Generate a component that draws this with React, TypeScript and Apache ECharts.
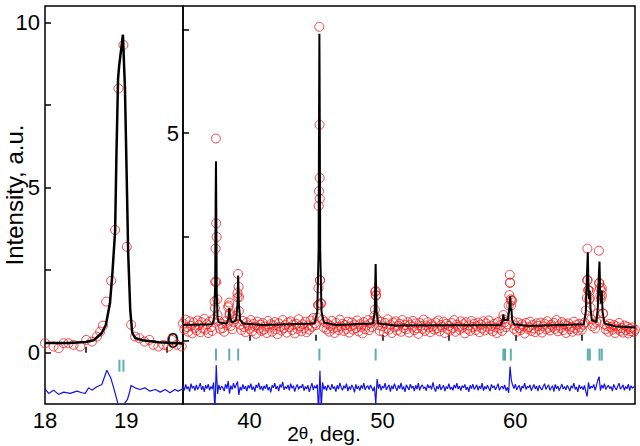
import React, { useEffect, useRef } from "react";
import * as echarts from "echarts";

const FONT = '"Liberation Sans", Arial, sans-serif';

// ---- Left panel (low-angle peak) ----
const leftXTicks = [18.5, 19.5];
const leftXLabels = [18, 19];
const leftYTicks = [0, 2.5, 5, 7.5, 10];
const leftYLabels = [0, 5, 10];

const leftObs: number[][] = [
  [18.0, 0.29], [18.106, 0.19], [18.168, 0.14], [18.229, 0.29], [18.29, 0.29],
  [18.352, 0.24], [18.434, 0.19], [18.508, 0.39], [18.578, 0.34], [18.639, 0.49],
  [18.68, 0.64], [18.713, 0.82], [18.754, 1.55], [18.815, 2.18], [18.864, 3.72],
  [18.905, 8.0], [18.966, 9.32], [19.008, 3.21], [19.061, 0.85], [19.11, 0.49],
  [19.163, 0.44], [19.225, 0.34], [19.286, 0.39], [19.335, 0.24], [19.397, 0.19],
  [19.458, 0.24], [19.52, 0.19], [19.562, 0.39], [19.623, 0.24], [19.684, 0.19],
];

const leftCalc: number[][] = [
  [18.0, 0.3], [18.3, 0.3], [18.5, 0.33], [18.6, 0.38], [18.7, 0.6], [18.75, 0.85],
  [18.8, 1.5], [18.83, 2.4], [18.864, 3.7], [18.88, 6.0], [18.9, 8.3], [18.914, 8.7],
  [18.96, 9.63], [18.985, 8.0], [19.005, 5.5], [19.025, 3.0], [19.05, 1.3],
  [19.075, 0.6], [19.11, 0.45], [19.2, 0.38], [19.4, 0.32], [19.7, 0.28],
];

const leftDiff: number[][] = [
  [18.0, -1.09], [18.045, -1.23], [18.106, -1.13], [18.167, -1.26], [18.229, -1.19],
  [18.311, -1.23], [18.393, -1.16], [18.455, -1.21], [18.496, -1.23], [18.537, -1.06],
  [18.578, -1.13], [18.639, -1.03], [18.70, -0.96], [18.762, -0.53], [18.81, -0.76],
  [18.84, -1.01], [18.885, -1.41], [18.914, -1.72], [18.947, -1.8], [18.987, -1.51],
  [19.016, -1.41], [19.04, -1.21], [19.06, -0.99], [19.11, -1.06], [19.17, -1.11],
  [19.23, -1.06], [19.29, -1.16], [19.36, -1.11], [19.42, -1.19], [19.48, -1.11],
  [19.54, -1.21], [19.60, -1.11], [19.64, -1.16], [19.70, -1.09],
];

const leftMarks = [18.917, 18.966];

// ---- Right panel ----
const rightXTicks = [40, 45, 50, 55, 60, 65];
const rightXLabels = [40, 50, 60];
const rightYTicks = [0, 2.5, 5, 7.5];
const rightYLabels = [0, 5];

const rightObsStart = 35;
const rightObsStep = 0.1;
const rightObs = [
  0.42, 0.28, 0.51, 0.33, 0.22, 0.47, 0.36, 0.18, 0.44, 0.31,
  0.25, 0.49, 0.38, 0.21, 0.45, 0.30, 0.53, 0.27, 0.40, 0.19,
  0.46, 0.33, 0.24, 0.52, 0.79, 1.42, 0.62, 0.48, 0.29, 0.41,
  0.31, 0.22, 0.47, 0.38, 0.81, 0.62, 0.36, 0.28, 0.45, 0.52,
  0.61, 1.05, 0.72, 0.39, 0.26, 0.48, 0.33, 0.21, 0.44, 0.37,
  0.29, 0.50, 0.23, 0.41, 0.34, 0.17, 0.46, 0.30, 0.39, 0.24,
  0.43, 0.27, 0.35, 0.19, 0.48, 0.32, 0.40, 0.22, 0.37, 0.45,
  0.28, 0.16, 0.42, 0.34, 0.25, 0.50, 0.31, 0.38, 0.20, 0.44,
  0.33, 0.47, 0.26, 0.39, 0.18, 0.41, 0.29, 0.52, 0.35, 0.23,
  0.40, 0.30, 0.46, 0.21, 0.37, 0.27, 0.49, 0.34, 0.55, 0.42,
  0.38, 0.56, 0.86, 1.46, 0.90, 0.51, 0.32, 0.45, 0.28, 0.40,
  0.22, 0.36, 0.48, 0.30, 0.19, 0.43, 0.33, 0.26, 0.51, 0.35,
  0.41, 0.24, 0.38, 0.29, 0.46, 0.20, 0.35, 0.44, 0.27, 0.39,
  0.31, 0.49, 0.23, 0.40, 0.34, 0.18, 0.45, 0.28, 0.37, 0.50,
  0.26, 0.42, 0.33, 0.48, 0.60, 1.10, 0.52, 0.38, 0.24, 0.46,
  0.35, 0.21, 0.43, 0.30, 0.52, 0.27, 0.39, 0.19, 0.44, 0.33,
  0.47, 0.25, 0.36, 0.41, 0.22, 0.50, 0.31, 0.38, 0.28, 0.45,
  0.20, 0.39, 0.34, 0.48, 0.26, 0.42, 0.30, 0.17, 0.43, 0.36,
  0.29, 0.51, 0.24, 0.37, 0.45, 0.32, 0.21, 0.40, 0.35, 0.27,
  0.44, 0.30, 0.49, 0.23, 0.38, 0.33, 0.46, 0.19, 0.41, 0.28,
  0.36, 0.25, 0.43, 0.31, 0.50, 0.22, 0.39, 0.34, 0.27, 0.47,
  0.32, 0.40, 0.18, 0.45, 0.29, 0.37, 0.24, 0.48, 0.33, 0.41,
  0.26, 0.35, 0.44, 0.21, 0.39, 0.30, 0.47, 0.25, 0.42, 0.34,
  0.49, 0.28, 0.36, 0.23, 0.41, 0.32, 0.19, 0.45, 0.30, 0.38,
  0.24, 0.52, 0.45, 0.33, 0.40, 0.85, 1.40, 0.97, 0.47, 0.29,
  0.37, 0.22, 0.44, 0.31, 0.26, 0.40, 0.35, 0.18, 0.43, 0.29,
  0.33, 0.46, 0.24, 0.38, 0.30, 0.21, 0.42, 0.36, 0.27, 0.44,
  0.20, 0.35, 0.41, 0.28, 0.47, 0.32, 0.25, 0.39, 0.34, 0.43,
  0.29, 0.50, 0.23, 0.37, 0.31, 0.45, 0.26, 0.40, 0.19, 0.36,
  0.42, 0.28, 0.34, 0.22, 0.46, 0.30, 0.38, 0.25, 0.41, 0.33,
  0.27, 0.39, 0.44, 0.73, 1.46, 1.22, 1.03, 0.52, 0.35, 0.41,
  0.30, 0.45, 0.66, 1.39, 1.09, 1.27, 0.66, 0.40, 0.28, 0.36,
  0.22, 0.41, 0.33, 0.27, 0.38, 0.19, 0.35, 0.29, 0.43, 0.24,
  0.31, 0.20, 0.37, 0.26, 0.34, 0.18, 0.29, 0.23, 0.32, 0.21,
  0.27,
];

const rightObsPeaks: number[][] = [
  [37.38, 0.95], [37.42, 1.42], [37.45, 2.22], [37.47, 4.87], [37.50, 2.83], [37.53, 2.50], [37.58, 1.0],
  [38.44, 0.85], [38.48, 0.92], [38.52, 0.66],
  [39.10, 1.15], [39.14, 1.61], [39.18, 1.30], [39.22, 1.05],
  [45.16, 0.86], [45.19, 1.27], [45.21, 3.25], [45.23, 3.60], [45.25, 7.56], [45.27, 5.20],
  [45.28, 3.92], [45.29, 3.42], [45.31, 1.46], [45.34, 0.90],
  [49.44, 0.75], [49.46, 1.18], [49.50, 1.20], [49.53, 1.09],
  [59.10, 0.62], [59.55, 1.10], [59.58, 1.59], [59.60, 1.40], [59.65, 1.00], [59.68, 0.85], [59.75, 0.97],
  [65.38, 1.03], [65.42, 2.22], [65.44, 1.46], [65.48, 1.22], [65.56, 1.00], [65.60, 1.20], [65.65, 0.80],
  [66.28, 2.17], [66.32, 1.39], [66.36, 1.27], [66.42, 1.00], [66.48, 1.20], [66.52, 1.09], [66.58, 0.66],
];

const rightCalc: number[][] = [
  [35, 0.38], [37.2, 0.40], [37.35, 0.55], [37.42, 1.4], [37.46, 3.6], [37.48, 4.32], [37.5, 3.4],
  [37.54, 1.1], [37.6, 0.55], [37.7, 0.44], [38.3, 0.42], [38.42, 0.55], [38.48, 0.79], [38.54, 0.55],
  [38.7, 0.44], [39.0, 0.5], [39.1, 0.9], [39.15, 1.57], [39.2, 0.9], [39.3, 0.5], [39.5, 0.42],
  [41, 0.38], [44.9, 0.42], [45.1, 0.7], [45.2, 2.2], [45.24, 6.0], [45.26, 7.39], [45.28, 6.0],
  [45.32, 2.2], [45.42, 0.7], [45.6, 0.44], [46.5, 0.38], [49.3, 0.42], [49.42, 0.7], [49.49, 1.85],
  [49.56, 0.7], [49.68, 0.42], [51, 0.37], [58.9, 0.38], [59.05, 0.5], [59.1, 0.64], [59.15, 0.5],
  [59.45, 0.5], [59.55, 0.8], [59.62, 1.07], [59.66, 0.72], [59.7, 0.78], [59.76, 0.5], [59.9, 0.40],
  [61, 0.36], [65.15, 0.4], [65.3, 0.7], [65.4, 1.7], [65.45, 2.13], [65.5, 1.3], [65.55, 1.0],
  [65.6, 1.21], [65.65, 0.8], [65.75, 0.5], [66.1, 0.45], [66.2, 0.8], [66.28, 1.6], [66.33, 1.91],
  [66.38, 1.2], [66.43, 0.9], [66.5, 1.21], [66.56, 0.7], [66.7, 0.42], [67.5, 0.35], [69, 0.32],
];

const rightDiffStart = 35;
const rightDiffStep = 0.1;
const rightDiff = [
  -1.08, -1.19, -1.05, -1.16, -1.10, -1.22, -1.03, -1.14, -1.09, -1.20,
  -1.06, -1.17, -1.11, -1.02, -1.18, -1.09, -1.23, -1.07, -1.15, -1.04,
  -1.19, -1.10, -1.16, -1.00, -1.70, -0.58, -1.28, -1.06, -1.18, -1.09,
  -1.13, -1.21, -1.04, -1.15, -0.97, -1.27, -1.08, -1.17, -1.02, -1.14,
  -1.06, -0.98, -1.30, -1.11, -1.19, -1.05, -1.16, -1.09, -1.21, -1.07,
  -1.14, -1.03, -1.18, -1.10, -1.22, -1.06, -1.13, -1.01, -1.17, -1.09,
  -1.20, -1.08, -1.15, -1.04, -1.19, -1.11, -1.24, -1.07, -1.13, -1.02,
  -1.16, -1.09, -1.21, -1.05, -1.12, -0.99, -1.18, -1.10, -1.15, -1.06,
  -1.19, -1.03, -1.14, -1.08, -1.22, -1.11, -1.05, -1.17, -1.09, -1.13,
  -1.04, -1.20, -1.10, -1.16, -1.07, -1.23, -1.12, -1.02, -1.18, -1.08,
  -1.14, -1.05, -1.70, -0.72, -1.62, -1.00, -1.17, -1.09, -1.20, -1.06,
  -1.13, -1.18, -1.04, -1.15, -1.10, -1.22, -1.07, -1.16, -1.01, -1.12,
  -1.19, -1.08, -1.14, -1.03, -1.21, -1.10, -1.17, -1.06, -1.13, -1.24,
  -1.05, -1.16, -1.09, -1.20, -1.07, -1.15, -1.02, -1.18, -1.11, -1.08,
  -1.17, -1.06, -1.13, -1.21, -1.10, -1.52, -0.92, -1.15, -1.04, -1.19,
  -1.09, -1.14, -1.02, -1.18, -1.11, -1.06, -1.22, -1.08, -1.16, -1.03,
  -1.13, -1.20, -1.07, -1.15, -1.01, -1.17, -1.10, -1.23, -1.06, -1.12,
  -1.18, -1.04, -1.14, -1.09, -1.21, -1.07, -1.16, -1.02, -1.19, -1.10,
  -1.06, -1.15, -1.11, -1.20, -1.05, -1.13, -1.08, -1.17, -1.00, -1.14,
  -1.22, -1.09, -1.16, -1.04, -1.18, -1.12, -1.07, -1.21, -1.10, -1.15,
  -1.03, -1.17, -1.11, -1.19, -1.06, -1.14, -1.02, -1.16, -1.09, -1.20,
  -1.08, -1.13, -1.05, -1.18, -1.11, -1.23, -1.07, -1.15, -1.04, -1.17,
  -1.12, -1.06, -1.19, -1.09, -1.15, -1.02, -1.20, -1.10, -1.16, -1.07,
  -1.14, -1.21, -1.05, -1.13, -1.08, -1.18, -1.11, -1.03, -1.19, -1.12,
  -1.09, -1.16, -1.06, -1.20, -1.12, -1.25, -0.62, -0.95, -1.07, -1.15,
  -1.04, -1.18, -1.11, -1.07, -1.22, -1.09, -1.14, -1.02, -1.17, -1.10,
  -1.13, -1.06, -1.20, -1.12, -1.05, -1.16, -1.09, -1.21, -1.07, -1.14,
  -1.18, -1.10, -1.03, -1.17, -1.11, -1.06, -1.19, -1.13, -1.08, -1.22,
  -1.05, -1.15, -1.09, -1.20, -1.12, -1.04, -1.16, -1.10, -1.18, -1.07,
  -1.13, -1.21, -1.08, -1.14, -1.02, -1.17, -1.11, -1.23, -1.06, -1.15,
  -1.10, -1.18, -1.07, -1.22, -1.34, -1.00, -1.16, -1.09, -1.13, -1.05,
  -1.19, -1.08, -0.95, -0.86, -1.20, -1.06, -1.14, -1.03, -1.17, -1.11,
  -1.07, -1.15, -1.10, -1.21, -1.05, -1.13, -1.18, -1.09, -1.02, -1.16,
  -1.12, -1.06, -1.19, -1.10, -1.15, -1.04, -1.20, -1.08, -1.14, -1.11,
  -1.09,
];

const rightMarks = [37.48, 38.48, 39.15, 45.26, 49.49, 59.1, 59.22, 59.66, 65.45, 65.6, 66.33, 66.5];

const leftMarkLevel = -0.39;
const rightMarkLevel = -0.33;

const RED = "#f01a1a";
const BLUE = "#1414e6";
const TEAL = "#349c98";

function gridPairs(start: number, step: number, values: number[]) {
  return values.map((v, i) => [+(start + i * step).toFixed(3), v]);
}

function makeXAxis(gridIndex: number, min: number, max: number, ticks: number[], labels: number[]) {
  return {
    type: "value",
    gridIndex,
    min,
    max,
    axisLine: { show: false },
    splitLine: { show: false },
    axisTick: { show: true, inside: true, length: 6, lineStyle: { color: "#000", width: 1.5 }, customValues: ticks },
    axisLabel: { show: true, customValues: labels, color: "#000", fontSize: 22, fontFamily: FONT, margin: 5 },
  };
}

function makeYAxis(gridIndex: number, min: number, max: number, ticks: number[], labels: number[], margin: number) {
  return {
    type: "value",
    gridIndex,
    min,
    max,
    position: "left",
    axisLine: { show: false },
    splitLine: { show: false },
    axisTick: { show: true, inside: true, length: 6, lineStyle: { color: "#000", width: 1.5 }, customValues: ticks },
    axisLabel: { show: true, customValues: labels, color: "#000", fontSize: 22, fontFamily: FONT, margin },
  };
}

export default function App() {
  const ref = useRef<HTMLDivElement>(null);
  useEffect(() => {
    if (!ref.current) return;
    const chart = echarts.init(ref.current, null, { renderer: "svg" });
    const obsStyle = { color: "rgba(0,0,0,0)", borderColor: RED, borderWidth: 1 };
    const option: any = {
      animation: false,
      backgroundColor: "#fff",
      grid: [
        { left: 45, top: 6, width: 138, height: 398, show: true, borderColor: "#000", borderWidth: 1.5, backgroundColor: "transparent", outerBoundsMode: "none", containLabel: false },
        { left: 183, top: 6, right: 5, height: 398, show: true, borderColor: "#000", borderWidth: 1.5, backgroundColor: "transparent", outerBoundsMode: "none", containLabel: false },
      ],
      xAxis: [
        makeXAxis(0, 18, 19.7, leftXTicks, leftXLabels),
        makeXAxis(1, 35, 69, rightXTicks, rightXLabels),
      ],
      yAxis: [
        makeYAxis(0, -1.55, 10.5, leftYTicks, leftYLabels, 5),
        makeYAxis(1, -1.52, 8.06, rightYTicks, rightYLabels, 4),
      ],
      series: [
        // left panel
        { type: "scatter", xAxisIndex: 0, yAxisIndex: 0, data: leftObs, symbol: "circle", symbolSize: 9, itemStyle: obsStyle, z: 2, silent: true },
        { type: "line", xAxisIndex: 0, yAxisIndex: 0, data: leftCalc, showSymbol: false, symbol: "none", lineStyle: { color: "#000", width: 2.5 }, z: 3, clip: true },
        { type: "line", xAxisIndex: 0, yAxisIndex: 0, data: leftDiff, showSymbol: false, symbol: "none", lineStyle: { color: BLUE, width: 1.2 }, z: 3, clip: true },
        { type: "scatter", xAxisIndex: 0, yAxisIndex: 0, data: leftMarks.map((x) => [x, leftMarkLevel]), symbol: "rect", symbolSize: [2, 12], itemStyle: { color: TEAL }, z: 3 },
        // right panel
        { type: "scatter", xAxisIndex: 1, yAxisIndex: 1, data: gridPairs(rightObsStart, rightObsStep, rightObs), symbol: "circle", symbolSize: 9, itemStyle: obsStyle, z: 2, silent: true },
        { type: "scatter", xAxisIndex: 1, yAxisIndex: 1, data: rightObsPeaks, symbol: "circle", symbolSize: 9, itemStyle: obsStyle, z: 2, silent: true },
        { type: "line", xAxisIndex: 1, yAxisIndex: 1, data: rightCalc, showSymbol: false, symbol: "none", lineStyle: { color: "#000", width: 2 }, z: 3, clip: true },
        { type: "line", xAxisIndex: 1, yAxisIndex: 1, data: gridPairs(rightDiffStart, rightDiffStep, rightDiff), showSymbol: false, symbol: "none", lineStyle: { color: BLUE, width: 1.2 }, z: 3, clip: true },
        { type: "scatter", xAxisIndex: 1, yAxisIndex: 1, data: rightMarks.map((x) => [x, rightMarkLevel]), symbol: "rect", symbolSize: [2, 12], itemStyle: { color: TEAL }, z: 3 },
      ],
      graphic: [
        {
          type: "text",
          x: 14,
          y: 195,
          rotation: Math.PI / 2,
          style: { text: "Intensity, a.u.", font: `24px ${FONT}`, fill: "#000", align: "center", verticalAlign: "middle" },
        },
        {
          type: "text",
          x: 324,
          y: 433,
          style: {
            text: "{a|2}{b|θ}{a|, deg.}",
            fill: "#000",
            align: "center",
            verticalAlign: "middle",
            rich: {
              a: { fontSize: 21, fontFamily: FONT, fill: "#000" },
              b: { fontSize: 17, fontFamily: FONT, fill: "#000" },
            },
          },
        },
      ],
    };
    chart.setOption(option);
    return () => chart.dispose();
  }, []);
  return <div ref={ref} style={{ position: "fixed", left: 0, top: 0, width: 640, height: 446 }} />;
}
